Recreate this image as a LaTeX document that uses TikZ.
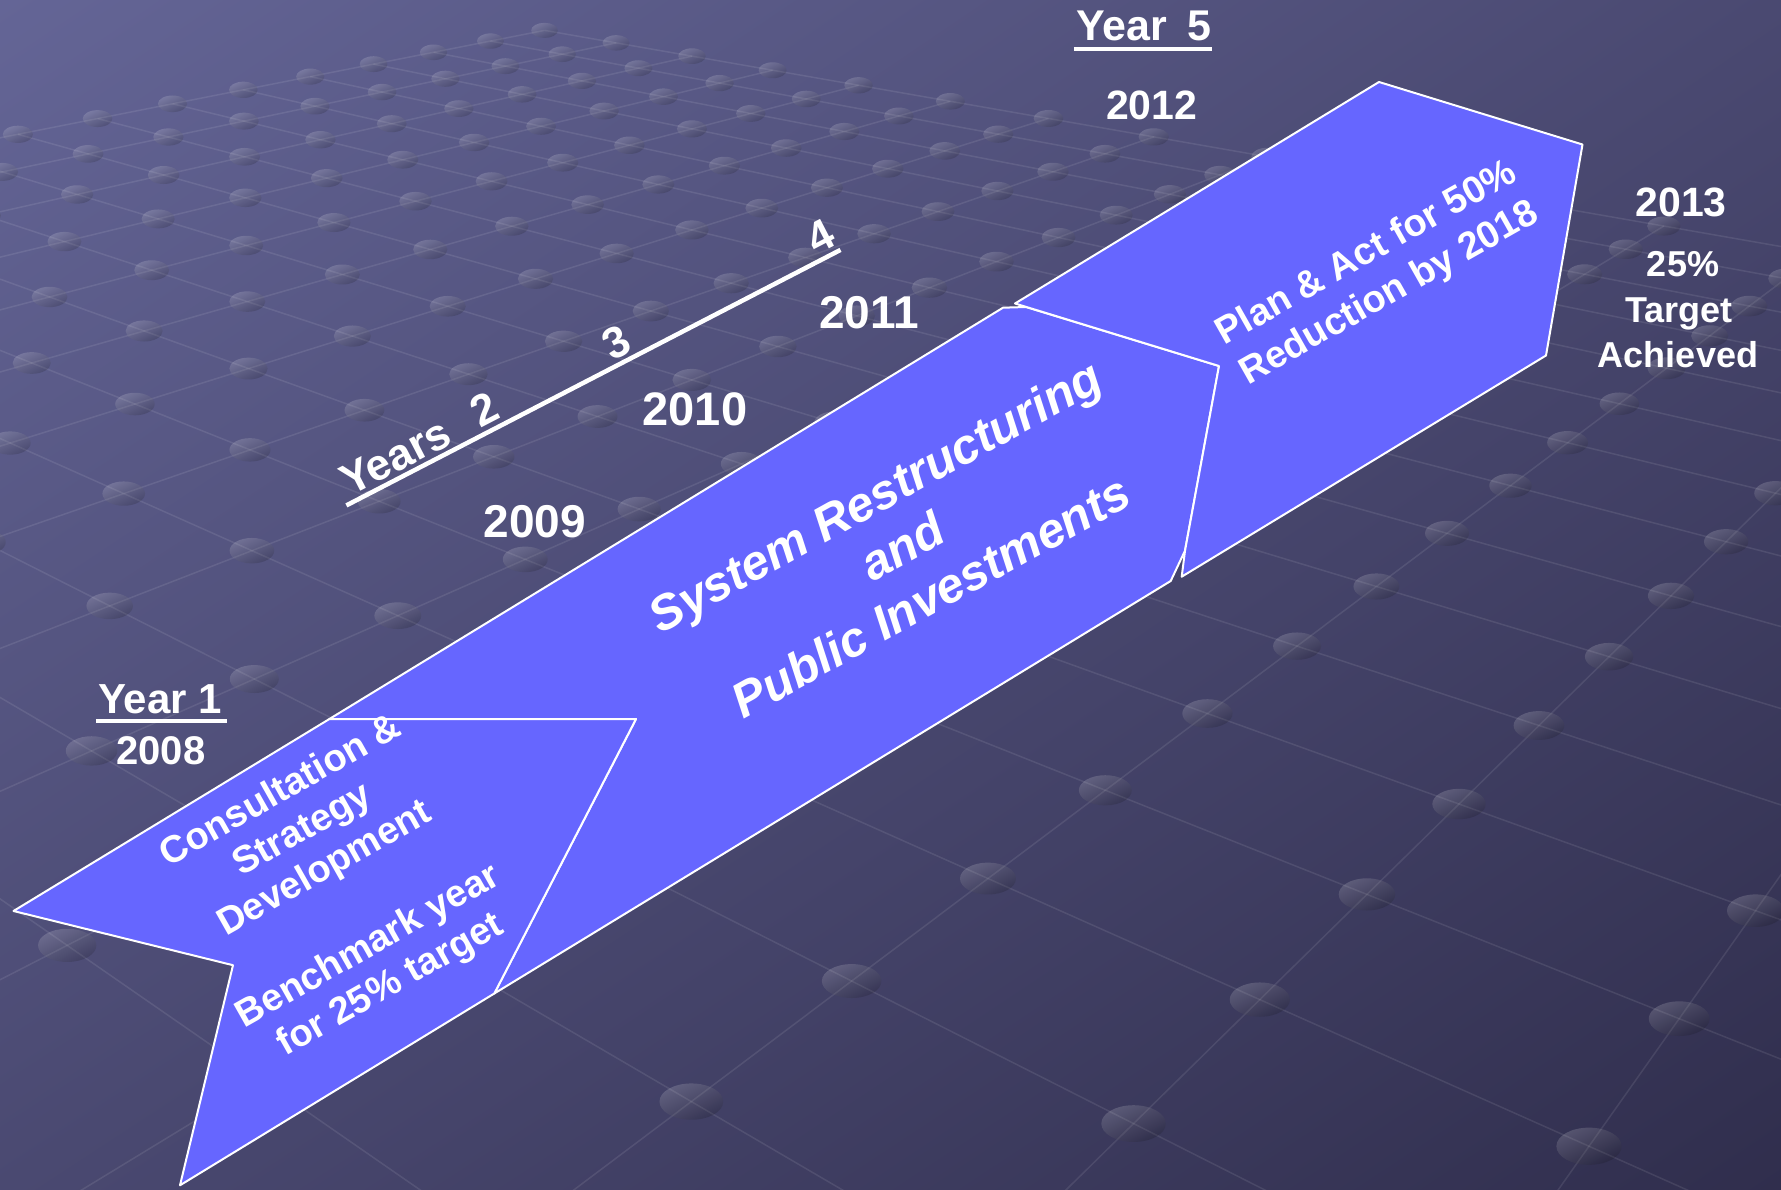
\documentclass[tikz,border=0pt]{standalone}
\usepackage{fontspec}
\setmainfont{Liberation Sans}
\usetikzlibrary{calc,shadings}
\definecolor{bandblue}{RGB}{102,102,255}
\definecolor{bgUL}{RGB}{100,101,150}
\definecolor{bgUR}{RGB}{74,73,113}
\definecolor{bgLL}{RGB}{74,73,113}
\definecolor{bgLR}{RGB}{48,46,77}
\newcommand\fsz[2]{\fontsize{#1}{#2}\selectfont}
\begin{document}
\begin{tikzpicture}[x=1pt,y=-1pt,
  band/.style={fill=bandblue, draw=white, line width=2pt, line join=round},
  lbl/.style={text=white, inner sep=0pt},
  uline/.style={draw=white, line width=4pt},
  gridline/.style={draw=white, draw opacity=0.09, line width=1.5pt},
  griddot/.style={top color=white, bottom color=black, shading angle=25, opacity=0.17},
]
\useasboundingbox (0,0) rectangle (1781,1190);
\shade[upper left=bgUL, upper right=bgUR, lower left=bgLL, lower right=bgLR] (0,0) rectangle (1781,1190);

% perspective grid of the background (vanishing points on y=-390)
\begin{scope}
\clip (0,0) rectangle (1781,1190);
\foreach \i in {0,...,14}{
  \pgfmathsetmacro\xa{-2004.1+287.6*\i}
  \pgfmathsetmacro\tA{4535/(3421.3-\xa+4535)}
  \draw[gridline] ({2675+(\xa-2675)*\tA},{-390+923.3*\tA}) -- ({2675+(\xa-2675)*1.75},{-390+923.3*1.75});
}
\foreach \j in {0,...,17}{
  \pgfmathsetmacro\xb{3421.3-246.8*\j}
  \pgfmathsetmacro\tB{4535/(\xb+2004.1+4535)}
  \draw[gridline] ({-1860+(\xb+1860)*\tB},{-390+923.3*\tB}) -- ({-1860+(\xb+1860)*1.75},{-390+923.3*1.75});
}
\foreach \i in {0,...,14}{
  \foreach \j in {0,...,17}{
    \pgfmathsetmacro\xa{-2004.1+287.6*\i}
    \pgfmathsetmacro\xb{3421.3-246.8*\j}
    \pgfmathsetmacro\tD{4535/(\xb-\xa+4535)}
    \pgfmathsetmacro\px{2675+(\xa-2675)*\tD}
    \pgfmathsetmacro\py{-390+923.3*\tD}
    \pgfmathsetmacro\rx{6+16*\tD}
    \pgfmathsetmacro\ry{0.57*\rx}
    \shade[griddot] (\px,\py) ellipse [x radius=\rx, y radius=\ry];
  }
}
\end{scope}

% arrow band shapes
\draw[band] (329.4,719) -- (1003,307.7) -- (1026,307) -- (1219,366) -- (1185,550.7) -- (1170.7,581) -- (494.3,993.5) -- (636,719) -- cycle;
\draw[band] (1015,303.5) -- (1379,82) -- (1582.5,144.5) -- (1546,355.5) -- (1181.7,576.7) -- (1185,550.7) -- (1219,366) -- cycle;
\draw[band] (13.5,911) -- (329.4,719) -- (636,719) -- (494.3,993.5) -- (180,1185.3) -- (233,965.2) -- cycle;

% year labels
\node[lbl, font=\bfseries\fsz{42}{50}, anchor=base] (y1) at (160,713) {Year 1};
\draw[uline] ([xshift=-2pt,yshift=-8pt]y1.base west) -- ([xshift=5pt,yshift=-8pt]y1.base east);
\node[lbl, font=\bfseries\fsz{40}{48}, anchor=base] (d2008) at (161,764) {2008};
\node[lbl, font=\bfseries\fsz{46}{55}, anchor=base] (d2009) at (534.7,537) {2009};
\node[lbl, font=\bfseries\fsz{47}{55}, anchor=base] (d2010) at (695,425.8) {2010};
\node[lbl, font=\bfseries\fsz{46}{55}, anchor=base] (d2011) at (869,328.8) {2011};
\node[lbl, font=\bfseries\fsz{43}{50}, anchor=base] (y5) at (1144,41) {Year\hspace{21pt}5};
\draw[uline] ([xshift=-2pt,yshift=-8pt]y5.base west) -- ([yshift=-8pt]y5.base east);
\node[lbl, font=\bfseries\fsz{41}{50}, anchor=base] (d2012) at (1151.7,120) {2012};
\node[lbl, font=\bfseries\fsz{41}{50}, anchor=base] (d2013) at (1681,217) {2013};
\node[lbl, font=\bfseries\fsz{36}{45}, anchor=base] (pct) at (1683,277) {25\%};
\node[lbl, font=\bfseries\fsz{36}{45}, anchor=base] (tgt) at (1679,323) {Target};
\node[lbl, font=\bfseries\fsz{36}{45}, anchor=base] (ach) at (1678,367) {Achieved};

% slanted years scale
\coordinate (tl0) at (346.4,505.4);
\coordinate (tl1) at (840.5,249.9);
\draw[white, line width=4.5pt] (tl0) -- (tl1);
\node[lbl, font=\bfseries\fsz{44}{50}, rotate=27.4, anchor=base west] (yrs) at (349.9,496.9) {Years\hspace{30pt}2};
\node[lbl, font=\bfseries\fsz{44}{50}, rotate=27.4, anchor=base] (n3) at (623.4,355.4) {3};
\node[lbl, font=\bfseries\fsz{44}{50}, rotate=27.4, anchor=base] (n4) at (827.7,249.8) {4};

% texts in the arrows
\node[lbl, font=\bfseries\fsz{38}{44.5}, align=center, rotate=29.5] (consult) at (336,889)
  {Consultation \&\\Strategy\\Development\\[44.5pt]Benchmark year\\for 25\% target};
\node[lbl, font=\bfseries\itshape\fsz{49}{57.5}, align=center, rotate=29] (sys) at (902.5,546)
  {System Restructuring\\and\\Public Investments};
\node[lbl, font=\bfseries\fsz{38}{46}, align=center, rotate=29.5] (plan) at (1378.4,274)
  {Plan \& Act for 50\%\\Reduction by 2018};
\end{tikzpicture}
\end{document}
